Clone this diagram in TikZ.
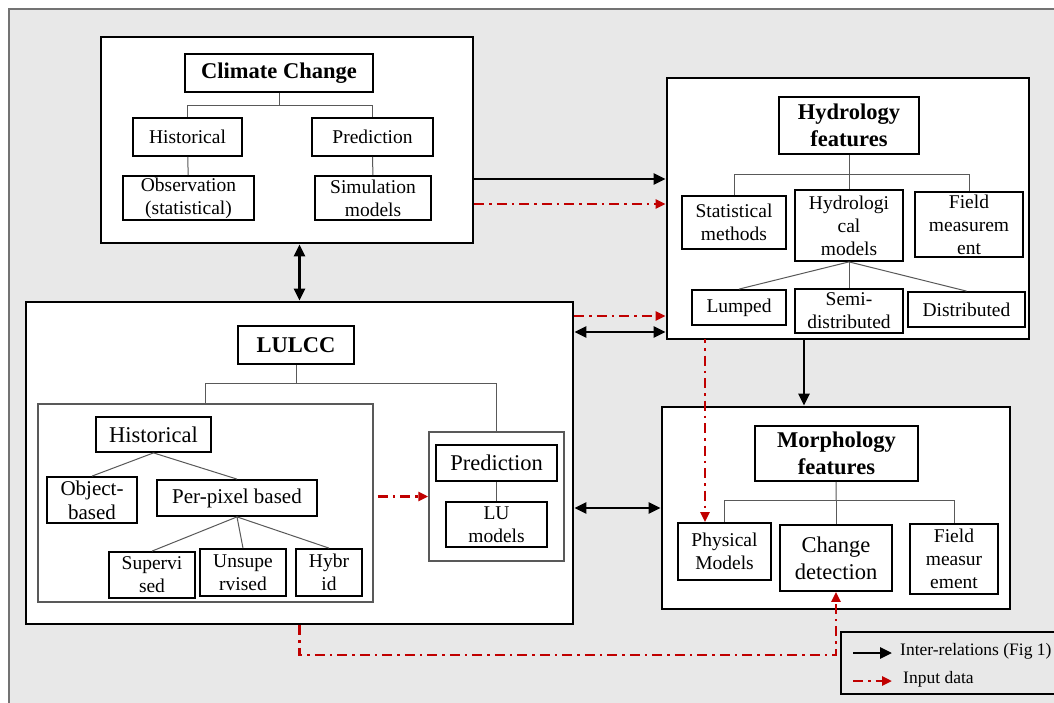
\documentclass[tikz,border=0pt]{standalone}
\usepackage{fontspec}
\setmainfont{Liberation Serif}
\usetikzlibrary{arrows.meta}

\definecolor{bggray}{RGB}{232,232,232}
\definecolor{dred}{RGB}{192,0,0}

\begin{document}
\begin{tikzpicture}[x=1pt, y=-1pt,
  panel/.style={draw, line width=2.8pt, fill=white, inner sep=0pt},
  subgroup/.style={draw=black!65, line width=1.5pt, fill=white, inner sep=0pt},
  box/.style={draw, line width=1.8pt, fill=white, inner sep=0pt, align=center,
    font=\fontsize{19.5}{23}\selectfont},
  bigbox/.style={box, font=\fontsize{22.5}{27}\selectfont},
  heading/.style={box, font=\fontsize{22.5}{27}\selectfont\bfseries},
  branch/.style={draw=black!65, line width=1pt},
  inter/.style={line width=2.8pt, -{Triangle[length=12pt,width=11pt]}},
  twoway/.style={line width=2.8pt, {Triangle[length=12pt,width=11pt]}-{Triangle[length=12pt,width=11pt]}},
  inputdata/.style={dred, line width=2.5pt, dash pattern=on 10pt off 5pt on 2.5pt off 5pt,
    -{Triangle[length=10pt,width=9pt]}}]
  \useasboundingbox (0,0) rectangle (1054,703);
  \clip (0,0) rectangle (1054,703);
  \draw[draw=black!55, line width=1.2pt, fill=bggray] (9,9) rectangle (1080,720);

  % climate change
  \node[panel, minimum width=372, minimum height=206] (climate) at (287,140) {};
  \node[heading, minimum width=188, minimum height=38] (cctitle) at (279,73) {Climate Change};
  \node[box, minimum width=109, minimum height=38] (cchist) at (187.5,137) {Historical};
  \node[box, minimum width=121, minimum height=38] (ccpred) at (372.5,137) {Prediction};
  \node[box, minimum width=131, minimum height=44] (ccobs) at (188.5,198) {Observation\\(statistical)};
  \node[box, minimum width=116, minimum height=44] (ccsim) at (373,198) {Simulation\\models};
  \coordinate (ccj) at (279,106);
  \draw[branch] (cctitle) -- (ccj);
  \draw[branch] (ccj) -| (cchist);
  \draw[branch] (ccj) -| (ccpred);
  \draw[branch] (cchist) -- (ccobs);
  \draw[branch] (ccpred) -- (ccsim);

  % hydrology
  \node[panel, minimum width=362, minimum height=261] (hydro) at (848,208.5) {};
  \node[heading, minimum width=140, minimum height=57] (hytitle) at (849,125.5) {Hydrology\\features};
  \node[box, minimum width=104, minimum height=53] (hystat) at (734,222.5) {Statistical\\methods};
  \node[box, minimum width=108, minimum height=71] (hymod) at (849,225.5) {Hydrologi\\cal\\models};
  \node[box, minimum width=108, minimum height=65] (hyfield) at (969,224.5) {Field\\measurem\\ent};
  \node[box, minimum width=94, minimum height=35] (hylump) at (739,307.5) {Lumped};
  \node[box, minimum width=108, minimum height=44] (hysemi) at (849,311) {Semi-\\distributed};
  \node[box, minimum width=117, minimum height=35] (hydist) at (966.5,309.5) {Distributed};
  \coordinate (hyj) at (849,175);
  \draw[branch] (hytitle) -- (hyj);
  \draw[branch] (hyj) -| (hystat);
  \draw[branch] (hyj) -- (hymod);
  \draw[branch] (hyj) -| (hyfield);
  \draw[branch] (hymod.south) -- (hylump.north);
  \draw[branch] (hymod.south) -- (hysemi.north);
  \draw[branch] (hymod.south) -- (hydist.north);

  % LULCC
  \node[panel, minimum width=547, minimum height=322] (lulcc) at (299.5,463) {};
  \node[heading, minimum width=116, minimum height=38] (lutitle) at (296,345) {LULCC};
  \node[subgroup, minimum width=335, minimum height=198] (lhgroup) at (205.5,503) {};
  \node[subgroup, minimum width=135, minimum height=129] (lpgroup) at (496.5,496.5) {};
  \node[bigbox, minimum width=115, minimum height=35] (lhist) at (153.5,434.5) {Historical};
  \node[box, font=\fontsize{21}{24}\selectfont, minimum width=90, minimum height=46] (lobj) at (92,500) {Object-\\based};
  \node[box, font=\fontsize{21}{24}\selectfont, minimum width=160, minimum height=36] (lpix) at (237,498) {Per-pixel based};
  \node[box, minimum width=86, minimum height=46] (lsup) at (152,575) {Supervi\\sed};
  \node[box, minimum width=86, minimum height=47] (lunsup) at (243,572.5) {Unsupe\\rvised};
  \node[box, minimum width=66, minimum height=47] (lhyb) at (329,572.5) {Hybr\\id};
  \node[bigbox, minimum width=121, minimum height=36] (lpred) at (496.5,463) {Prediction};
  \node[box, minimum width=101, minimum height=45] (lumod) at (496.5,524.5) {LU\\models};
  \coordinate (luj) at (296,383);
  \draw[branch] (lutitle) -- (luj);
  \draw[branch] (luj) -| (lhgroup);
  \draw[branch] (luj) -| (lpgroup);
  \draw[branch] (lhist.south) -- (lobj.north);
  \draw[branch] (lhist.south) -- (lpix.north);
  \draw[branch] (lpix.south) -- (lsup.north);
  \draw[branch] (lpix.south) -- (lunsup.north);
  \draw[branch] (lpix.south) -- (lhyb.north);
  \draw[branch] (lpred) -- (lumod);

  % morphology
  \node[panel, minimum width=348, minimum height=202] (morph) at (836,508) {};
  \node[heading, minimum width=163, minimum height=55] (motitle) at (836.5,453.5) {Morphology\\features};
  \node[box, minimum width=93, minimum height=57] (mophys) at (724.5,551.5) {Physical\\Models};
  \node[bigbox, minimum width=112, minimum height=66] (mochg) at (836,558) {Change\\detection};
  \node[box, minimum width=88, minimum height=70] (mofield) at (954,559) {Field\\measur\\ement};
  \coordinate (moj) at (836,500);
  \draw[branch] (motitle) -- (moj);
  \draw[branch] (moj) -| (mophys);
  \draw[branch] (moj) -- (mochg);
  \draw[branch] (moj) -| (mofield);

  % inter-relations
  \draw[inter] (climate.east |- 0,179) -- (hydro.west |- 0,179);
  \draw[twoway] (lulcc.north) -- (lulcc.north |- climate.south);
  \draw[twoway] (lulcc.east |- 0,332) -- (hydro.west |- 0,332);
  \draw[twoway] (lulcc.east |- morph.west) -- (morph.west);
  \coordinate (hydown) at (804,339);
  \draw[inter] (hydown) -- (hydown |- morph.north);

  % input data
  \draw[inputdata] (climate.east |- 0,204) -- (hydro.west |- 0,204);
  \draw[inputdata] (lulcc.east |- 0,316) -- (hydro.west |- 0,316);
  \draw[inputdata, shorten <=4pt] (lhgroup.east |- lpgroup.west) -- (lpgroup.west);
  \coordinate (hyout) at (705,339);
  \draw[inputdata, dash phase=6pt] (hyout) -- (hyout |- mophys.north);
  \coordinate (lowpath) at (836,655);
  \draw[inputdata] (lulcc.south) |- (lowpath) -- (mochg.south);

  % legend
  \node[draw, line width=1.5pt, fill=bggray, minimum width=229, minimum height=62] (legend) at (955.5,663) {};
  \coordinate (lega) at (853,653);
  \coordinate (legb) at (853,681);
  \draw[inter] (lega) -- ++(39,0);
  \draw[inputdata] (legb) -- ++(39,0);
  \node[right, inner sep=0pt, font=\fontsize{17.5}{20}\selectfont] (legt1) at (900,651) {Inter-relations (Fig 1)};
  \node[right, inner sep=0pt, font=\fontsize{17.5}{20}\selectfont] (legt2) at (903,679) {Input data};
\end{tikzpicture}
\end{document}
